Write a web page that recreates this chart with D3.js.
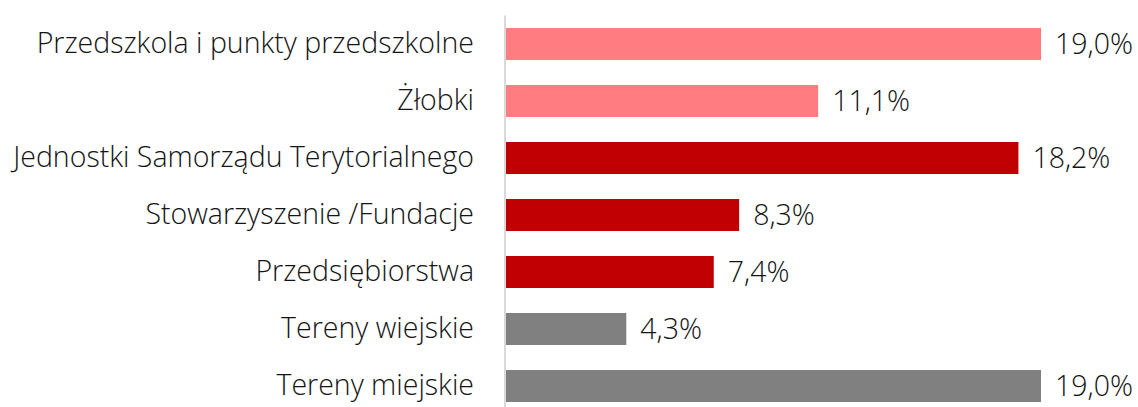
<!DOCTYPE html>
<html>
<head>
<meta charset="utf-8">
<script src="https://cdn.jsdelivr.net/npm/d3@7"></script>
<style>
  body { margin: 0; background: #fff; }
  svg text { font-family: "Open Sans", "Noto Sans", sans-serif; font-weight: 300; fill: #141414; }
</style>
</head>
<body>
<svg id="chart" width="1138" height="407"></svg>
<script>
const categories = [
  "Przedszkola i punkty przedszkolne",
  "Żłobki",
  "Jednostki Samorządu Terytorialnego",
  "Stowarzyszenie /Fundacje",
  "Przedsiębiorstwa",
  "Tereny wiejskie",
  "Tereny miejskie"
];
const values = [19.0, 11.1, 18.2, 8.3, 7.4, 4.3, 19.0];
const groups = ["a", "a", "b", "b", "b", "c", "c"];

const svg = d3.select("#chart");
const plotLeft = 505, plotTop = 15.5;

const data = categories.map((c, i) => ({name: c, value: values[i], group: groups[i]}));

const xScale = d3.scaleLinear()
                 .domain([0, 19.0])
                 .range([plotLeft, 1041]);

const yScale = d3.scaleBand()
                 .domain(categories)
                 .range([plotTop, plotTop + 57 * categories.length])
                 .paddingInner(25 / 57)
                 .paddingOuter(12.5 / 57);

const color = d3.scaleOrdinal()
                .domain(["a", "b", "c"])
                .range(["#ff7c80", "#c00000", "#808080"]);

svg.selectAll("rect")
   .data(data)
   .enter()
   .append("rect")
   .attr("x", xScale(0))
   .attr("y", d => yScale(d.name))
   .attr("width", d => xScale(d.value) - xScale(0))
   .attr("height", yScale.bandwidth())
   .attr("fill", d => color(d.group));

// category axis
const yAxis = d3.axisLeft(yScale).tickSize(0).tickPadding(31);
const ax = svg.append("g")
   .attr("class", "y-axis")
   .attr("transform", "translate(" + plotLeft + ",0)")
   .call(yAxis);
ax.select(".domain").remove();
ax.append("line")
  .attr("x1", 0).attr("x2", 0)
  .attr("y1", plotTop).attr("y2", 407)
  .attr("stroke", "#d9d9d9")
  .attr("stroke-width", 2);
ax.attr("font-family", null).attr("font-size", null);
ax.selectAll("text")
  .attr("font-size", 28.5)
  .attr("fill", "#141414");

// value labels
const fmt = v => d3.format(".1f")(v).replace(".", ",") + "%";
svg.selectAll(".val")
   .data(data)
   .enter()
   .append("text")
   .attr("class", "val")
   .attr("x", d => xScale(d.value) + 14)
   .attr("y", d => yScale(d.name) + yScale.bandwidth() / 2)
   .attr("dy", "0.35em")
   .attr("font-size", 28.5)
   .text(d => fmt(d.value));
</script>
</body>
</html>
